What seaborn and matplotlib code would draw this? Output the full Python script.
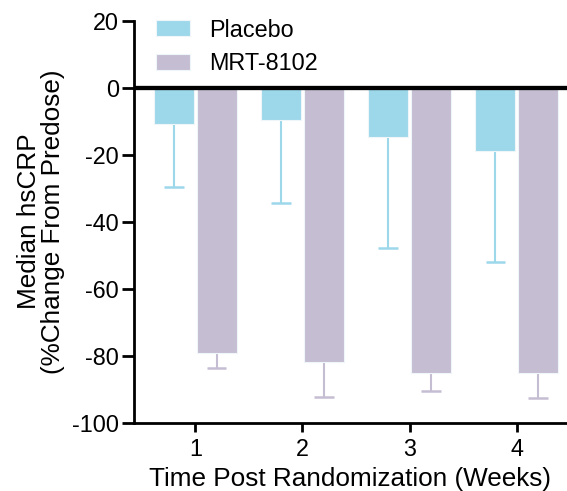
import pandas as pd
import matplotlib.pyplot as plt
import seaborn as sns

weeks = ["1", "2", "3", "4"]
groups = ["Placebo", "MRT-8102"]
placebo = [-10.8, -9.6, -14.7, -19.0]
placebo_err_end = [-29.8, -34.4, -47.8, -52.0]
mrt = [-79.3, -81.9, -85.1, -85.1]
mrt_err_end = [-83.8, -92.5, -90.7, -92.7]
colors = ["#9DD7EA", "#C5BDD2"]

df = pd.DataFrame({
    "Week": weeks * 2,
    "Group": [groups[0]] * 4 + [groups[1]] * 4,
    "Change": placebo + mrt,
})

sns.set_style("ticks")
plt.rcParams["font.family"] = ["Liberation Sans", "DejaVu Sans"]
plt.rcParams["axes.unicode_minus"] = False
plt.rcParams["text.color"] = "black"
plt.rcParams["xtick.color"] = "black"
plt.rcParams["ytick.color"] = "black"
plt.rcParams["axes.labelcolor"] = "black"

fig = plt.figure(figsize=(5.67, 4.91), dpi=100)
ax = fig.add_axes([0.2363, 0.1395, 0.7637, 0.8185])

sns.barplot(data=df, x="Week", y="Change", hue="Group", palette=colors,
            saturation=1, width=0.8, gap=0.065, errorbar=None, ax=ax,
            edgecolor="#EEF6FA", linewidth=0.8, zorder=2)

# one-sided (downward) error bars at the bar centres seaborn chose
ends = [placebo_err_end, mrt_err_end]
vals = [placebo, mrt]
bar_sets = list(ax.containers)
cap = 0.09
for i, cont in enumerate(bar_sets):
    xs = [p.get_x() + p.get_width() / 2 for p in cont.patches]
    ax.vlines(xs, vals[i], ends[i], color=colors[i], lw=1.5, zorder=1)
    ax.hlines(ends[i], [x - cap for x in xs], [x + cap for x in xs],
              color=colors[i], lw=1.8, zorder=1)

ax.axhline(0, color="black", lw=3.1, zorder=3)
ax.set_ylim(-100, 20)
ax.set_xlim(-0.573, 3.47)
ax.set_yticks([20, 0, -20, -40, -60, -80, -100])
ax.tick_params(axis="both", labelsize=16.8, width=2, color="black")
ax.tick_params(axis="y", length=8.7, pad=2)
ax.tick_params(axis="x", length=6.5, pad=5)
for s in ["top", "right"]:
    ax.spines[s].set_visible(False)
for s in ["left", "bottom"]:
    ax.spines[s].set_linewidth(2)
    ax.spines[s].set_color("black")

ax.set_xlabel("Time Post Randomization (Weeks)", fontsize=18.8, labelpad=4)
ax.set_ylabel("Median hsCRP\n(%Change From Predose)", fontsize=18.8,
              linespacing=1.0, labelpad=5)

leg = ax.legend(loc="upper left", bbox_to_anchor=(0.051, 1.005), frameon=False,
                fontsize=16.8, handlelength=1.44, handleheight=0.67,
                handletextpad=0.82, labelspacing=0.45, borderpad=0,
                borderaxespad=0)

fig.savefig("out.png", dpi=100)
